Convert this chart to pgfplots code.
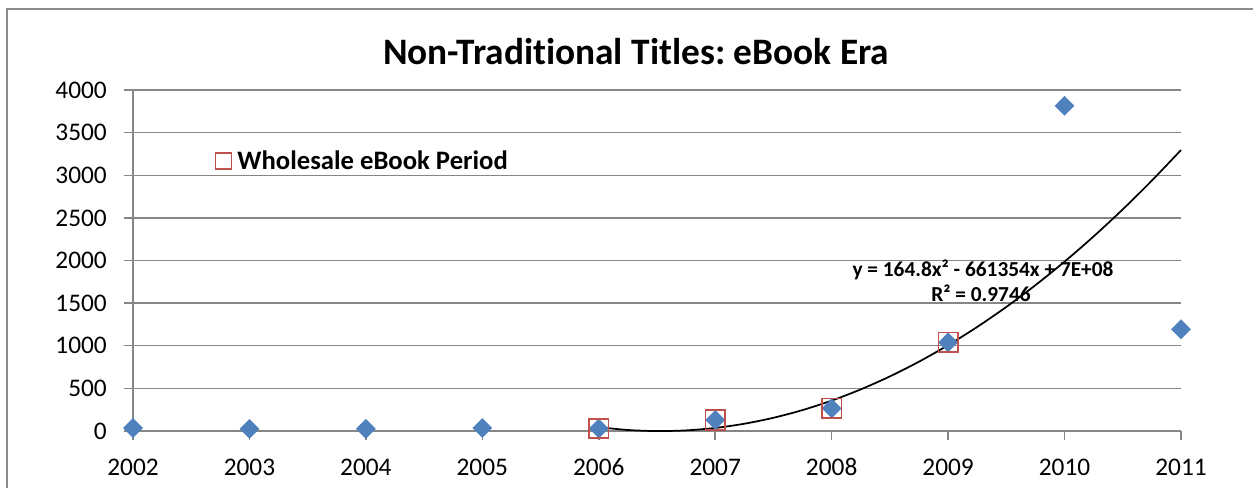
\documentclass[border=0pt]{standalone}
\usepackage{fontspec}
\setmainfont{Carlito}[Ligatures={NoCommon}]
\usepackage{pgfplots}
\pgfplotsset{compat=1.18}
\definecolor{gridgray}{RGB}{134,134,134}
\definecolor{borderg}{RGB}{140,140,140}
\definecolor{xblue}{RGB}{79,129,189}
\definecolor{xred}{RGB}{192,80,77}
\frenchspacing
\begin{document}
\begin{tikzpicture}[x=0.75pt,y=0.75pt]
\useasboundingbox (0,0) rectangle (1253,487);
\draw[borderg, line width=1.5pt] (7,-20) -- (7,478) -- (1290,478);
\begin{axis}[
  at={(99.75pt,42pt)}, anchor=south west,
  scale only axis, width=786pt, height=255.75pt,
  xmin=2002, xmax=2011, ymin=0, ymax=4000,
  axis lines=left, axis line style={-, draw=gridgray, line width=1.1pt},
  xtick={2002,2003,2004,2005,2006,2007,2008,2009,2010,2011},
  xticklabels={2002,2003,2004,2005,2006,2007,2008,2009,2010,2011},
  ytick={0,500,1000,1500,2000,2500,3000,3500,4000},
  yticklabels={0,500,1000,1500,2000,2500,3000,3500,4000},
  ymajorgrids, grid style={gridgray, line width=1.1pt},
  tick align=outside, major tick length=7pt,
  tick style={gridgray, line width=1.1pt},
  ticklabel style={font=\fontsize{19}{23}\selectfont, text=black, inner sep=0pt},
  xticklabel style={anchor=base, yshift=-26pt},
  yticklabel style={anchor=east, xshift=-12.5pt},
  clip=false,
  legend cell align=left,
  legend style={at={(rel axis cs:0.0782,0.792)}, anchor=west, draw=none, fill=none,
    inner sep=0pt, outer sep=0pt, font=\bfseries\fontsize{20}{24}\selectfont,
    nodes={inner sep=0pt},
    /tikz/every odd column/.append style={column sep=4pt}},
  legend image code/.code={\draw[xred, line width=1.1pt] (0pt,-5.9pt) rectangle (11.8pt,5.9pt);},
]
\addplot[only marks, color=xblue, mark=square*, mark size=5.1pt,
  mark options={rotate=45, fill=xblue, draw=xblue, line width=0.2pt}, forget plot]
  coordinates {(2002,35)(2003,25)(2004,25)(2005,35)(2006,30)(2007,129)(2008,266)(2009,1040)(2010,3815)(2011,1193)};
\addplot[only marks, color=xred, mark=square, mark size=7.3pt,
  mark options={draw=xred, line width=1.3pt, fill=none}]
  coordinates {(2006,30)(2007,129)(2008,266)(2009,1040)};
\addlegendentry{Wholesale eBook Period}
\addplot[smooth, black, line width=1.3pt, no marks, forget plot] coordinates {
  (2006,45) (2006.25,11.85) (2006.5,-0.7) (2006.75,7.35) (2007,36)
  (2007.25,85.25) (2007.5,155.1) (2007.75,245.55) (2008,356.6)
  (2008.25,488.25) (2008.5,640.5) (2008.75,813.35) (2009,1006.8)
  (2009.25,1220.85) (2009.5,1455.5) (2009.75,1710.75) (2010,1986.6)
  (2010.25,2283.05) (2010.5,2600.1) (2010.75,2937.75) (2011,3296)};
\end{axis}
\node[font=\bfseries\fontsize{28}{34}\selectfont, anchor=base] at (636,422.5) {Non-Tradit\kern0pt ional Titles: eBook Era};
\node[font=\bfseries\fontsize{16}{19}\selectfont, anchor=base] at (983,210.3) {y = 164.8x² - 661354x + 7E+08};
\node[font=\bfseries\fontsize{16}{19}\selectfont, anchor=base] at (981,185.3) {R² = 0.9746};
\end{tikzpicture}
\end{document}
